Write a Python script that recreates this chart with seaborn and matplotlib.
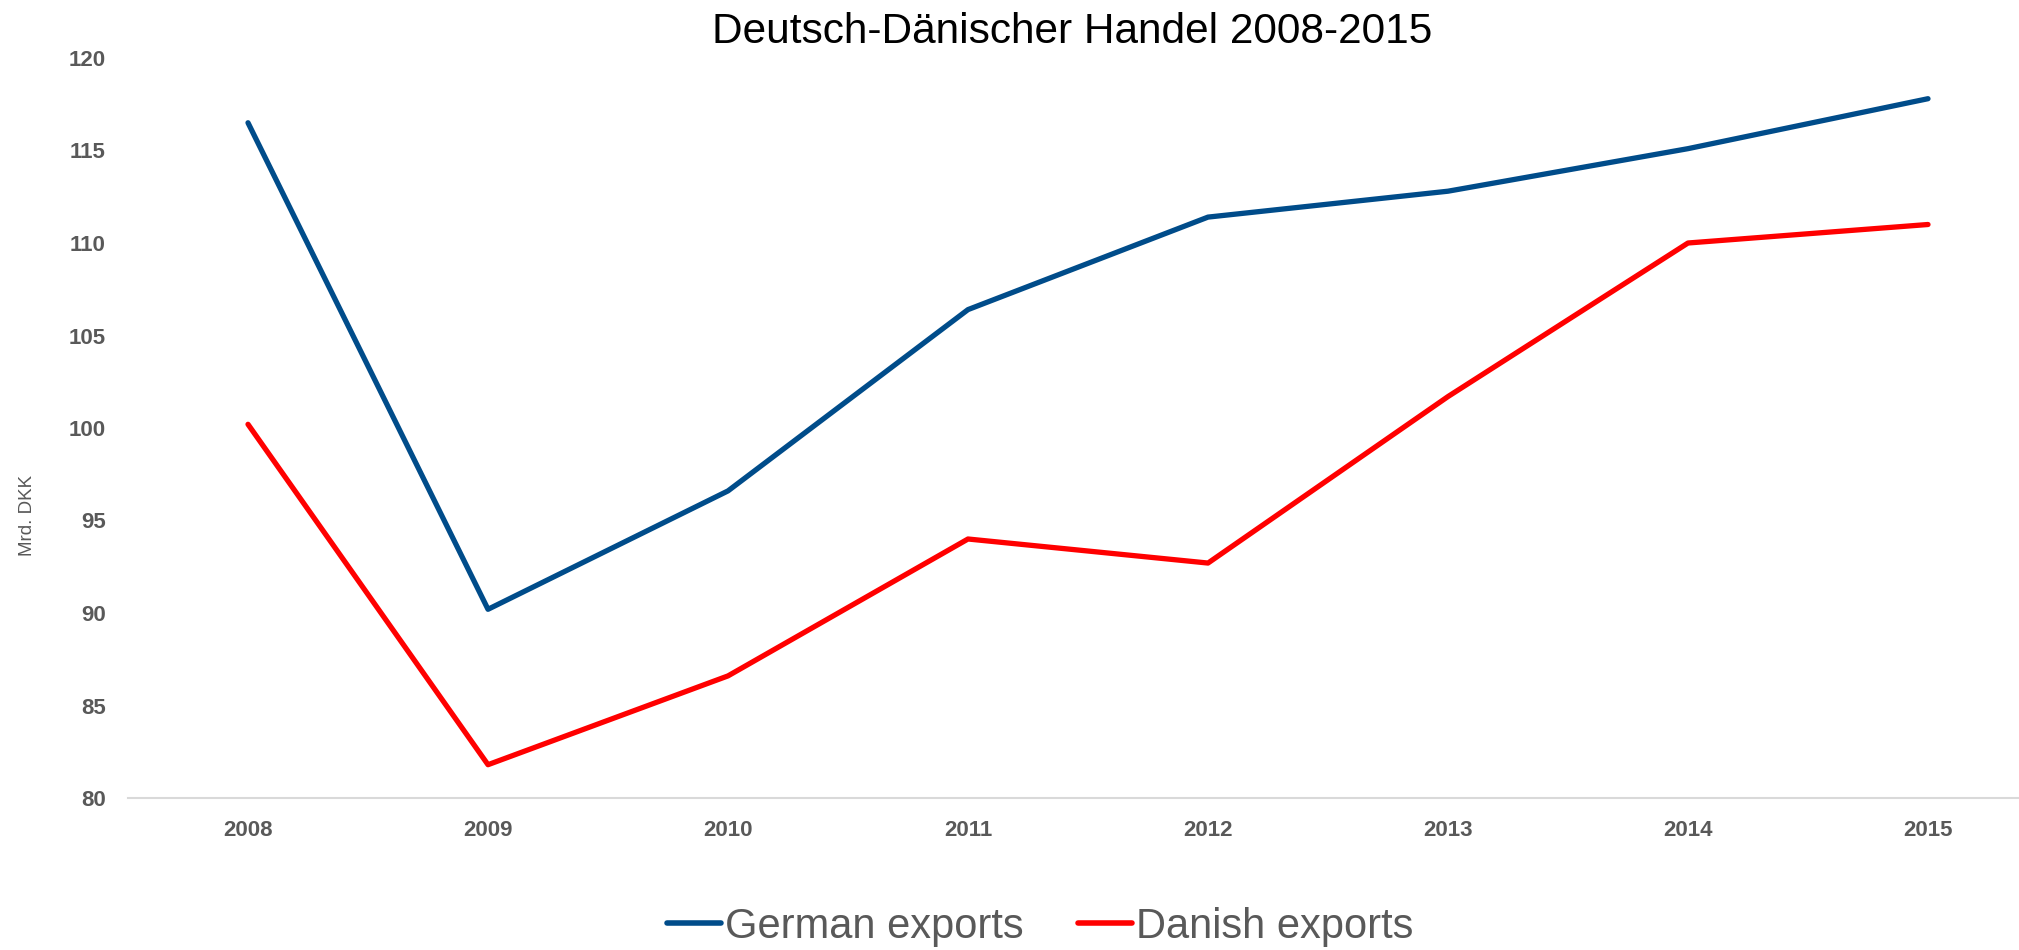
import pandas as pd
import seaborn as sns
import matplotlib.pyplot as plt

years = ["2008", "2009", "2010", "2011", "2012", "2013", "2014", "2015"]
german_exports = [116.5, 90.2, 96.6, 106.4, 111.4, 112.8, 115.1, 117.8]
danish_exports = [100.2, 81.8, 86.6, 94.0, 92.7, 101.7, 110.0, 111.0]
y_ticks = [80, 85, 90, 95, 100, 105, 110, 115, 120]

GRAY = "#595959"
palette = {"German exports": "#004C8A", "Danish exports": "#FF0000"}


def main():
    sns.set_style("white")
    plt.rcParams["font.family"] = ["Liberation Sans", "DejaVu Sans"]

    df = pd.DataFrame({
        "year": years * 2,
        "value": german_exports + danish_exports,
        "series": ["German exports"] * len(years) + ["Danish exports"] * len(years),
    })

    fig = plt.figure(figsize=(20.19, 9.5), dpi=100)
    ax = fig.add_axes([128 / 2019, 1 - 798 / 950, 1920 / 2019, 740 / 950])

    sns.lineplot(data=df, x="year", y="value", hue="series", palette=palette,
                 linewidth=3.8, sort=False, ax=ax, legend=False)

    ax.set_xlim(-0.5, len(years) - 0.5)
    ax.set_ylim(80, 120)
    ax.set_yticks(y_ticks)
    ax.set_yticklabels([str(t) for t in y_ticks])
    ax.tick_params(axis="both", length=0, labelsize=16, labelcolor=GRAY, pad=16)
    for lab in ax.get_xticklabels() + ax.get_yticklabels():
        lab.set_fontweight("bold")

    for side in ["top", "right", "left"]:
        ax.spines[side].set_visible(False)
    ax.spines["bottom"].set_color("#D9D9D9")
    ax.spines["bottom"].set_linewidth(1.5)

    ax.set_xlabel("")
    ax.set_ylabel("")
    fig.text(28 / 2019, 1 - 515 / 950, "Mrd. DKK", rotation=90, fontsize=13.5,
             color=GRAY, ha="center", va="center")
    fig.text(1072 / 2019, 1 - 32 / 950, "Deutsch-Dänischer Handel 2008-2015",
             fontsize=30.5, color="black", ha="center", va="center")

    handles = [plt.Line2D([], [], color=palette[k], linewidth=4) for k in palette]
    fig.legend(handles, list(palette.keys()), loc="center",
               bbox_to_anchor=(1040 / 2019, 1 - 927 / 950), ncol=2, frameon=False,
               fontsize=30, labelcolor=GRAY, handlelength=1.3, handletextpad=0.1,
               columnspacing=1.3)

    fig.savefig("out.png", dpi=100)
    plt.close(fig)


if __name__ == "__main__":
    main()
